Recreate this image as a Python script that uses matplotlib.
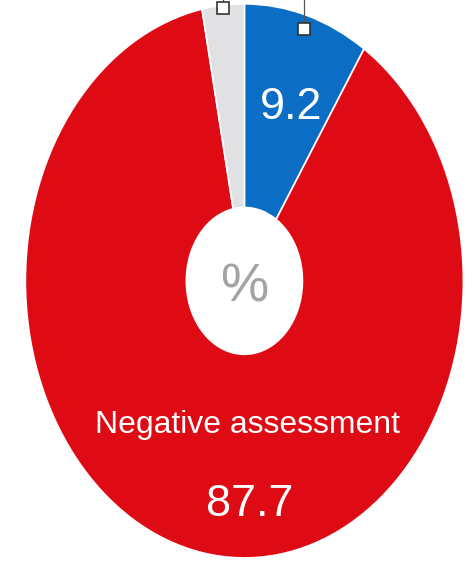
import numpy as np
import matplotlib
matplotlib.use("Agg")
import matplotlib.pyplot as plt
from matplotlib import font_manager

# ---- data ----
categories = ["Positive assessment", "Negative assessment", "No answer"]
values = [9.2, 87.7, 3.1]
value_labels = ["9.2", "87.7", ""]
colors = ["#0B6EC4", "#DE0A14", "#E1E1E3"]

names = {f.name for f in font_manager.fontManager.ttflist}
narrow = "Liberation Sans Narrow" in names
FONT = ["Liberation Sans Narrow", "Liberation Sans", "DejaVu Sans"] if narrow \
    else ["Liberation Sans", "DejaVu Sans"]

fig = plt.figure(figsize=(4.75, 5.64), dpi=100)
ax = fig.add_axes([0, 0, 1, 1])

wedges, _ = ax.pie(values, colors=colors, startangle=90, counterclock=False,
                   radius=1.0, wedgeprops=dict(width=0.735, edgecolor="white", linewidth=1.2))

# stretched (elliptical) appearance as in the reference
ax.set_aspect("auto")
ax.set_xlim(-1.116, 1.053)
ax.set_ylim(-1.022, 1.014)
ax.axis("off")

# leader markers at wedge mid-angles
for w, r in zip(wedges, [0.95, None, 0.99]):
    if r is None:
        continue
    ang = np.deg2rad((w.theta1 + w.theta2) / 2)
    x, y = r * np.cos(ang), r * np.sin(ang)
    ax.plot([x, x], [y, 1.3], color="#555555", lw=0.9, zorder=4)
    ax.plot([x], [y], marker="s", ms=8.5, mfc="white", mec="#333333", mew=1.2, zorder=5)

s = 1.0 if narrow else 0.85
ax.text(0.212, 0.625, value_labels[0], color="white", fontsize=38 * s, family=FONT,
        ha="center", va="center")
ax.text(0.016, -0.549, categories[1], color="white", fontsize=27 * s, family=FONT,
        ha="center", va="baseline")
ax.text(0.023, -0.85, value_labels[1], color="white", fontsize=38 * s, family=FONT,
        ha="center", va="baseline")
ax.text(0.0, -0.025, "%", color="#A3A3A3", fontsize=46 * s, family=FONT,
        ha="center", va="center")

fig.savefig("out.png", dpi=100)
